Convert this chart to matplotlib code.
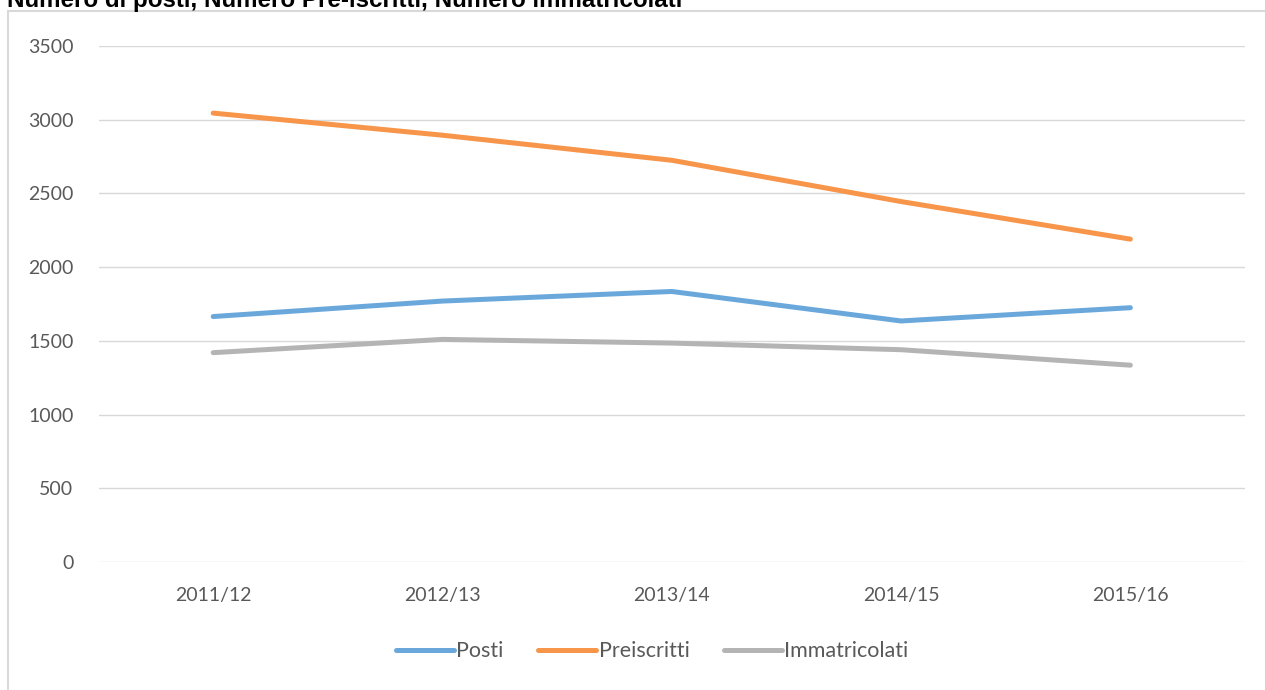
import matplotlib.pyplot as plt
from matplotlib.patches import Rectangle

anni = ['2011/12', '2012/13', '2013/14', '2014/15', '2015/16']
posti = [1665, 1770, 1835, 1635, 1725]
preiscritti = [3045, 2895, 2725, 2445, 2190]
immatricolati = [1420, 1510, 1485, 1440, 1335]

fig = plt.figure(figsize=(12.65, 6.9), dpi=100)
ax = fig.add_axes([0.0779, 0.1855, 0.9063, 0.7478])

# chart frame, cut off at the right and bottom like in the original
fig.patches.append(Rectangle((8 / 1265, -0.1), 1.2, 1 - 11 / 690 + 0.1,
                             transform=fig.transFigure, fill=False,
                             edgecolor='#d9d9d9', linewidth=1.5))

x = range(len(anni))
ax.plot(x, posti, color='#6aa8dc', lw=3.6, label='Posti', solid_capstyle='round')
ax.plot(x, preiscritti, color='#f7954a', lw=3.6, label='Preiscritti', solid_capstyle='round')
ax.plot(x, immatricolati, color='#b4b4b4', lw=3.6, label='Immatricolati', solid_capstyle='round')

ax.set_xlim(-0.5, 4.5)
ax.set_ylim(0, 3500)
ax.set_yticks(range(0, 3501, 500))
ax.set_xticks(list(x))
ax.set_xticklabels(anni)
ax.grid(axis='y', color='#d9d9d9', lw=1)
ax.set_axisbelow(True)
for s in ax.spines.values():
    s.set_visible(False)
ax.tick_params(length=0, labelsize=14, labelcolor='#595959')
ax.tick_params(axis='y', pad=18)
ax.tick_params(axis='x', pad=18)
for lab in ax.get_xticklabels() + ax.get_yticklabels():
    lab.set_family('Lato')

leg = ax.legend(loc='center', bbox_to_anchor=(0.483, -0.173), ncol=3, frameon=False,
                handlelength=2.7, handletextpad=0.1, columnspacing=1.6,
                prop={'family': 'Lato', 'size': 15.5})
for t in leg.get_texts():
    t.set_color('#595959')

fig.text(7 / 1265, 1 - 7 / 690, 'Numero di posti, Numero Pre-iscritti, Numero immatricolati',
         fontsize=17.4, fontweight='bold', family='Liberation Sans', va='baseline')

fig.savefig('out.png', dpi=100)
